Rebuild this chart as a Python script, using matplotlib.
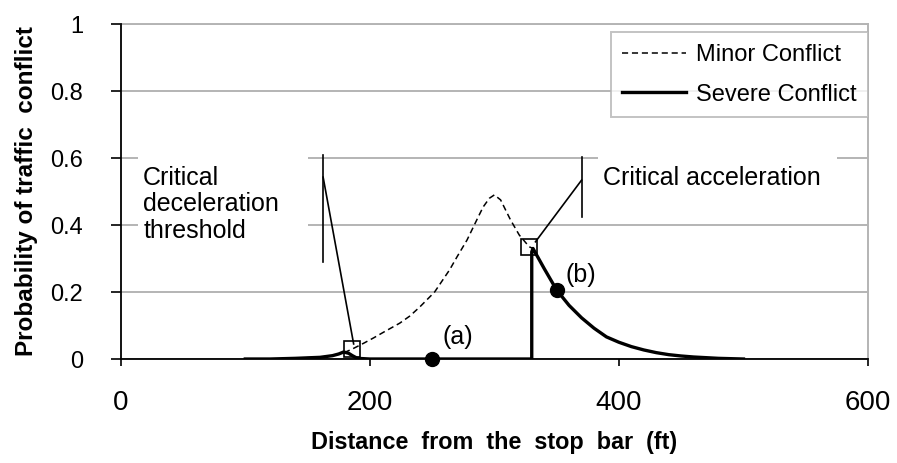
import matplotlib
matplotlib.use('Agg')
import matplotlib.pyplot as plt
from matplotlib.patches import Rectangle

plt.rcParams['font.family'] = ['Liberation Sans', 'DejaVu Sans']

# distance from stop bar (ft) and probabilities
minor_x = [100, 120, 140, 160, 170, 180, 186, 195, 203, 211, 224, 232, 240, 252, 264, 270,
           278, 287, 291, 296, 300, 305, 313, 320, 328, 331, 340, 350, 360, 370, 380, 390,
           400, 410, 420, 430, 440, 450, 460, 480, 500]
minor_y = [0.0, 0.0, 0.002, 0.006, 0.01, 0.02, 0.03, 0.047, 0.063, 0.08, 0.107, 0.128, 0.155, 0.2, 0.266, 0.305,
           0.355, 0.424, 0.454, 0.48, 0.49, 0.475, 0.415, 0.37, 0.335, 0.33, 0.27, 0.206, 0.16, 0.123, 0.092, 0.066,
           0.05, 0.037, 0.027, 0.019, 0.013, 0.009, 0.006, 0.002, 0.0]

severe_x = [100, 120, 140, 160, 170, 175, 179, 183, 186, 190, 200, 250, 330, 330, 331, 340, 350, 360, 370,
            380, 390, 400, 410, 420, 430, 440, 450, 460, 480, 500]
severe_y = [0.0, 0.0, 0.002, 0.005, 0.01, 0.015, 0.021, 0.017, 0.01, 0.002, 0.0, 0.0, 0.0, 0.32, 0.33, 0.27, 0.206, 0.16, 0.123,
            0.092, 0.066, 0.05, 0.037, 0.027, 0.019, 0.013, 0.009, 0.006, 0.002, 0.0]

# critical thresholds (open squares) and example points (filled circles)
crit_x = [186, 328]
crit_y = [0.03, 0.335]
pts_x = [250, 350]
pts_y = [0.0, 0.206]
pts_lab = ['(a)', '(b)']

grid_c = '#b4b4b4'

fig = plt.figure(figsize=(8.97, 4.63), dpi=100)
ax = fig.add_axes([0.1346, 0.2246, 0.8331, 0.7234])

ax.plot(minor_x, minor_y, color='black', lw=1.1, ls=(0, (4, 2.5)), label='Minor Conflict', zorder=4)
ax.plot(severe_x, severe_y, color='black', lw=2.4, label='Severe Conflict', zorder=5)
ax.plot(crit_x, crit_y, ls='none', marker='s', ms=12, mfc='none', mec='black', mew=1.2, zorder=6)
ax.plot(pts_x, pts_y, ls='none', marker='o', ms=10, color='black', zorder=6, clip_on=False)

ax.text(258, 0.045, pts_lab[0], fontsize=18, zorder=7)
ax.text(357, 0.23, pts_lab[1], fontsize=18, zorder=7)

# text boxes hiding the gridlines
ax.add_patch(Rectangle((14, 0.31), 136, 0.33, facecolor='white', edgecolor='none', zorder=2))
ax.add_patch(Rectangle((383, 0.45), 192, 0.19, facecolor='white', edgecolor='none', zorder=2))
ax.text(18, 0.462, 'Critical\ndeceleration\nthreshold', fontsize=18, va='center', ha='left',
        linespacing=1.12, zorder=7)
ax.text(387, 0.54, 'Critical acceleration', fontsize=18, va='center', ha='left', zorder=7)

# callout leaders
ax.plot([162.5, 162.5], [0.29, 0.61], color='black', lw=1.2, zorder=6)
ax.plot([162.5, 187], [0.543, 0.045], color='black', lw=1.2, zorder=6)
ax.plot([370, 370], [0.424, 0.603], color='black', lw=1.2, zorder=6)
ax.plot([370, 333], [0.534, 0.35], color='black', lw=1.2, zorder=6)

ax.set_xlim(0, 600)
ax.set_ylim(0, 1)
ax.set_xticks([0, 200, 400, 600])
ax.set_yticks([0, 0.2, 0.4, 0.6, 0.8, 1.0])
ax.set_yticklabels(['0', '0.2', '0.4', '0.6', '0.8', '1'])
ax.yaxis.grid(True, color=grid_c, lw=1.4, zorder=1)
ax.set_axisbelow(True)

for s in ['top', 'right']:
    ax.spines[s].set_color(grid_c)
    ax.spines[s].set_linewidth(1.4)
for s in ['left', 'bottom']:
    ax.spines[s].set_linewidth(1.3)
    ax.spines[s].set_zorder(3)

ax.tick_params(axis='y', direction='out', length=7, width=1.2, pad=20, labelsize=17)
ax.tick_params(axis='x', direction='out', length=5, width=1.2, pad=17, labelsize=20)

ax.set_xlabel('Distance  from  the  stop  bar  (ft)', fontsize=16.8, fontweight='bold', labelpad=11)
ax.set_ylabel('Probability of traffic  conflict', fontsize=17.5, fontweight='bold', labelpad=9)

leg = ax.legend(loc='upper right', bbox_to_anchor=(1.0, 0.976), borderaxespad=0,
                fontsize=17, frameon=True, fancybox=False, handlelength=2.7,
                handletextpad=0.4, labelspacing=0.75, borderpad=0.5)
leg.get_frame().set_edgecolor(grid_c)
leg.get_frame().set_linewidth(1.4)
leg.set_zorder(8)

fig.savefig('out.png', dpi=100)
